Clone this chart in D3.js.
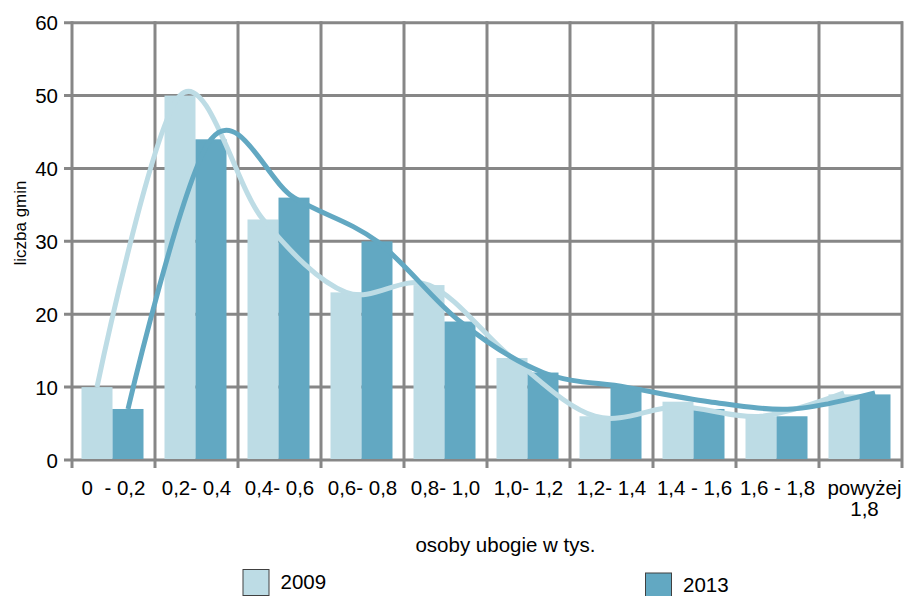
<!DOCTYPE html>
<html>
<head>
<meta charset="utf-8">
<script src="https://cdn.jsdelivr.net/npm/d3@7"></script>
<style>
  html, body { margin: 0; padding: 0; background: #fff; }
  svg { display: block; font-family: "Liberation Sans", Arial, sans-serif; }
</style>
</head>
<body>
<svg id="chart" width="909" height="596"></svg>
<script>
const categories = ["0  - 0,2", "0,2- 0,4", "0,4- 0,6", "0,6- 0,8", "0,8- 1,0", "1,0- 1,2", "1,2- 1,4", "1,4 - 1,6", "1,6 - 1,8", "powyżej|1,8"];
const seriesNames = ["2009", "2013"];
// bar values
const values2009 = [10, 50, 33, 23, 24, 14, 6, 8, 6, 9];
const values2013 = [7, 44, 36, 30, 19, 12, 10, 7, 6, 9];
// smoothed trend lines
const trend2009 = [10, 50, 33, 23, 24, 14, 6, 7.3, 6, 9.2];
const trend2013 = [7, 44, 36, 30, 19, 12, 10, 8, 7, 9.2];
const yTicks = [0, 10, 20, 30, 40, 50, 60];
const colors = ["#bddce5", "#62a8c2"];
const lineColors = ["#bddce5", "#62a8c2"];

(function () {
const svg = d3.select("#chart");
const pLeft = 72, pRight = 902, pTop = 22.7, pBottom = 460;
const gridColor = "#878787";
const tickFont = 20.5;

const x = d3.scaleBand().domain(categories).range([pLeft, pRight]).padding(0);
const xs = d3.scaleBand().domain(seriesNames).range([9.5, 71.5]).padding(0);
const y = d3.scaleLinear().domain([0, 60]).range([pBottom, pTop]);

const series = [values2009, values2013];
const trends = [trend2009, trend2013];

// grid horizontal
const g = svg.append("g");
g.selectAll("line.h").data(yTicks).join("line")
  .attr("class", "h")
  .attr("x1", pLeft - 8).attr("x2", pRight + 1)
  .attr("y1", d => y(d)).attr("y2", d => y(d))
  .attr("stroke", gridColor).attr("stroke-width", 3);
// grid vertical (category boundaries)
const bounds = categories.map(c => x(c)).concat([pRight]);
g.selectAll("line.v").data(bounds).join("line")
  .attr("class", "v")
  .attr("x1", d => d).attr("x2", d => d)
  .attr("y1", pTop - 1.5).attr("y2", pBottom + 8)
  .attr("stroke", gridColor).attr("stroke-width", 3);

// bars
series.forEach((vals, si) => {
  svg.append("g").selectAll("rect").data(vals).join("rect")
    .attr("x", (d, i) => x(categories[i]) + xs(seriesNames[si]))
    .attr("width", xs.bandwidth())
    .attr("y", d => y(d))
    .attr("height", d => y(0) - y(d) - 1)
    .attr("fill", colors[si]);
});

// smooth lines
trends.forEach((vals, si) => {
  const line = d3.line()
    .x((d, i) => x(categories[i]) + xs(seriesNames[si]) + xs.bandwidth() / 2)
    .y(d => y(d))
    .curve(d3.curveCardinal.tension(0));
  svg.append("path").datum(vals)
    .attr("d", line)
    .attr("fill", "none")
    .attr("stroke", lineColors[si])
    .attr("stroke-width", 5)
    .attr("stroke-linecap", "butt");
});

// y tick labels
svg.append("g").selectAll("text").data(yTicks).join("text")
  .attr("x", 58).attr("y", d => y(d) + 7.5)
  .attr("text-anchor", "end")
  .attr("font-size", tickFont).attr("fill", "#000")
  .text(d => d);

// x tick labels
const xl = svg.append("g").selectAll("text").data(categories).join("text")
  .attr("y", 495)
  .attr("text-anchor", "middle")
  .attr("font-size", tickFont).attr("fill", "#000")
  .attr("xml:space", "preserve")
  .style("white-space", "pre");
xl.each(function(d, i) {
  const parts = d.split("|");
  const t = d3.select(this);
  const cx = x(d) + x.bandwidth() / 2 + (parts.length > 1 ? 4 : 0);
  parts.forEach((p, k) => {
    t.append("tspan").attr("x", cx)
      .attr("dy", k === 0 ? 0 : 20.5).text(p);
  });
});

// axis titles
svg.append("text")
  .attr("transform", "translate(26," + 223 + ") rotate(-90)")
  .attr("text-anchor", "middle").attr("font-size", 17).attr("fill", "#000")
  .text("liczba gmin");
svg.append("text")
  .attr("x", 505.5).attr("y", 552)
  .attr("text-anchor", "middle").attr("font-size", tickFont).attr("fill", "#000")
  .text("osoby ubogie w tys.");

// legend
const legendPos = [{bx: 243, by: 569.5, tx: 280.5}, {bx: 645.5, by: 573, tx: 683}];
seriesNames.forEach((s, i) => {
  const p = legendPos[i];
  svg.append("rect").attr("x", p.bx).attr("y", p.by).attr("width", 26).attr("height", 26)
    .attr("fill", colors[i]).attr("stroke", "#404040").attr("stroke-width", 1);
  svg.append("text").attr("x", p.tx).attr("y", p.by + 19)
    .attr("font-size", tickFont).attr("fill", "#000").text(s);
});
})();
</script>
</body>
</html>
